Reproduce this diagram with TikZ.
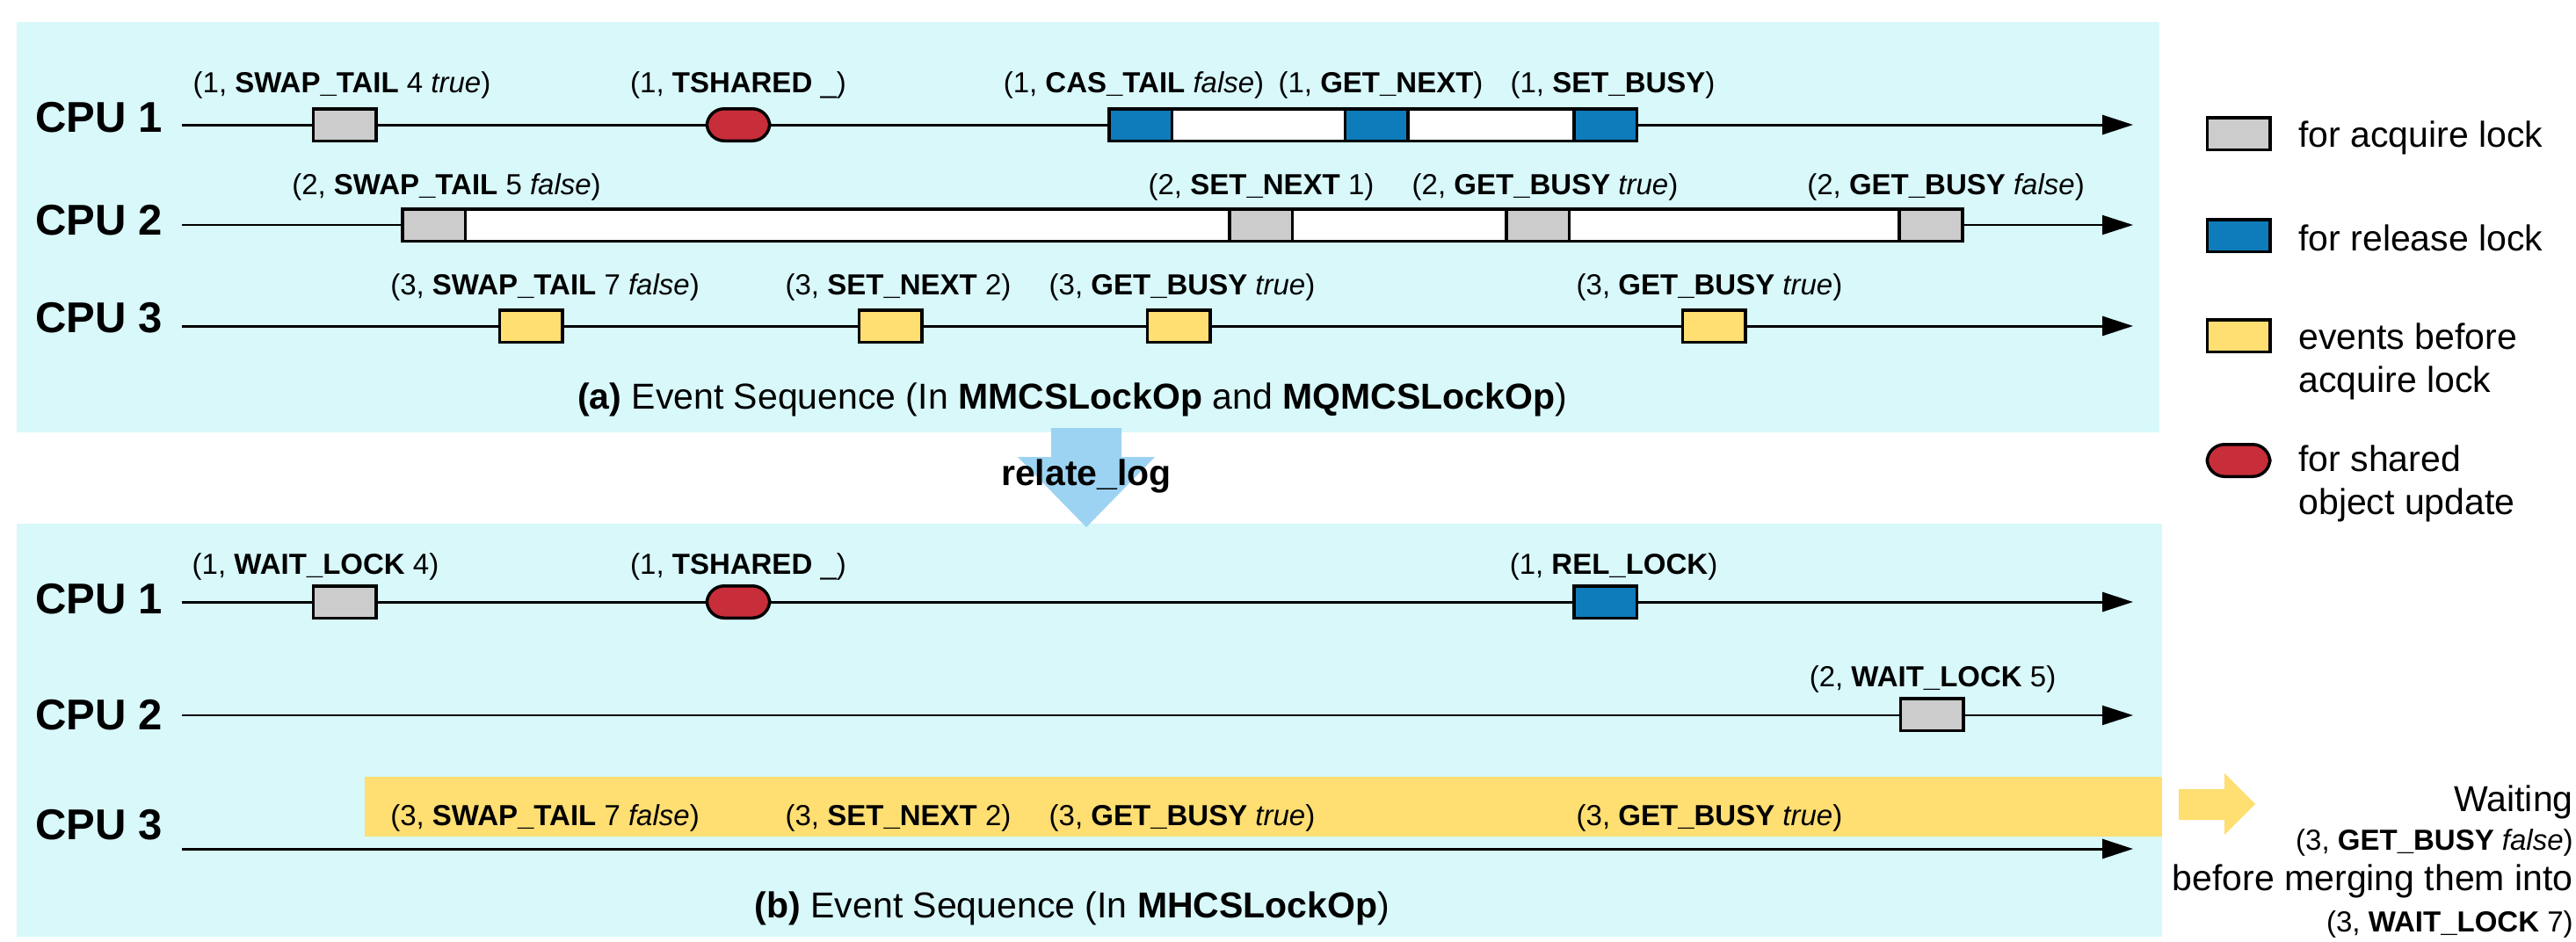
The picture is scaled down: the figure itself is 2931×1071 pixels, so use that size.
\documentclass[tikz,border=0pt]{standalone}
\usepackage{fontspec}
\setmainfont{Liberation Sans}
\usetikzlibrary{arrows.meta}
\definecolor{panelc}{RGB}{216,248,250}
\definecolor{acqgray}{RGB}{204,204,204}
\definecolor{relblue}{RGB}{14,123,186}
\definecolor{preyellow}{RGB}{255,222,114}
\definecolor{shrred}{RGB}{200,45,58}
\definecolor{arrblue}{RGB}{157,211,242}
\begin{document}
\begin{tikzpicture}[x=0.5pt,y=-0.5pt,
  cpulbl/.style={anchor=base west, inner sep=0pt, font=\fontsize{24.5}{28}\selectfont\bfseries},
  evlbl/.style={anchor=base, inner sep=0pt, font=\fontsize{16.5}{20}\selectfont},
  captxt/.style={anchor=base, inner sep=0pt, font=\fontsize{20.5}{24}\selectfont},
  legtxt/.style={anchor=base west, inner sep=0pt, font=\fontsize{20.5}{24}\selectfont},
  evbox/.style={draw=black, line width=1.75pt, minimum width=35.75pt, minimum height=18.25pt, inner sep=0pt},
  acq/.style={evbox, fill=acqgray},
  rel/.style={evbox, fill=relblue},
  pre/.style={evbox, fill=preyellow},
  shr/.style={evbox, fill=shrred, rounded corners=9.9pt},
  bar/.style={draw=black, line width=1.75pt, fill=white, minimum height=18.25pt, inner sep=0pt},
  tline/.style={line width=1.5pt, -{Triangle[length=17.5pt,width=11pt]}},
  tlinethin/.style={line width=1pt, -{Triangle[length=17.5pt,width=11pt]}}
]
\useasboundingbox (0,0) rectangle (2931,1071);
% panels
\fill[panelc] (19,25) rectangle (2457,492);
\fill[panelc] (19,596) rectangle (2460,1066);
% relate_log arrow
\fill[arrblue] (1196,487) -- (1276,487) -- (1276,520) -- (1314,520) -- (1236,600) -- (1158,520) -- (1196,520) -- cycle;
\node[anchor=base, inner sep=0pt, font=\fontsize{20.5}{24}\selectfont\bfseries] (rlog) at (1236,552) {relate\_log};

% ===== top panel =====
\node[cpulbl] (a1) at (40,150) {CPU 1};
\node[cpulbl] (a2) at (40,267) {CPU 2};
\node[cpulbl] (a3) at (40,378) {CPU 3};
\coordinate (a1s) at (207,142); \coordinate (a1e) at (2427,142);
\coordinate (a2s) at (207,256); \coordinate (a2e) at (2427,256);
\coordinate (a3s) at (207,371); \coordinate (a3e) at (2427,371);
\draw[tline] (a1s) -- (a1e);
\draw[tlinethin] (a2s) -- (a2e);
\draw[tline] (a3s) -- (a3e);
% CPU1 events
\node[acq] (a1b1) at (392,142) {};
\node[shr] (a1b2) at (840,142) {};
\node[bar, minimum width=300.25pt] (a1bar) at (1562,142) {};
\node[rel] (a1b3) at (1297.5,142) {};
\node[rel] (a1b4) at (1566,142) {};
\node[rel] (a1b5) at (1826.5,142) {};
\node[evlbl] (a1l1) at (389,105) {(1, \textbf{SWAP\_TAIL} 4 \textit{true})};
\node[evlbl] (a1l2) at (840,105) {(1, \textbf{TSHARED} \_)};
\node[evlbl] (a1l3) at (1290,105) {(1, \textbf{CAS\_TAIL} \textit{false})};
\node[evlbl] (a1l4) at (1571,105) {(1, \textbf{GET\_NEXT})};
\node[evlbl] (a1l5) at (1835,105) {(1, \textbf{SET\_BUSY})};
% CPU2 events
\node[bar, minimum width=887.75pt] (a2bar) at (1345.5,256) {};
\node[acq] (a2b1) at (493.5,256) {};
\node[acq] (a2b2) at (1434.5,256) {};
\node[acq] (a2b3) at (1749.5,256) {};
\node[acq] (a2b4) at (2196.5,256) {};
\node[evlbl] (a2l1) at (508,221) {(2, \textbf{SWAP\_TAIL} 5 \textit{false})};
\node[evlbl] (a2l2) at (1435,221) {(2, \textbf{SET\_NEXT} 1)};
\node[evlbl] (a2l3) at (1758,221) {(2, \textbf{GET\_BUSY} \textit{true})};
\node[evlbl] (a2l4) at (2214,221) {(2, \textbf{GET\_BUSY} \textit{false})};
% CPU3 events
\node[pre] (a3b1) at (604,371) {};
\node[pre] (a3b2) at (1013,371) {};
\node[pre] (a3b3) at (1341,371) {};
\node[pre] (a3b4) at (1950,371) {};
\node[evlbl] (a3l1) at (620,335) {(3, \textbf{SWAP\_TAIL} 7 \textit{false})};
\node[evlbl] (a3l2) at (1022,335) {(3, \textbf{SET\_NEXT} 2)};
\node[evlbl] (a3l3) at (1345,335) {(3, \textbf{GET\_BUSY} \textit{true})};
\node[evlbl] (a3l4) at (1945,335) {(3, \textbf{GET\_BUSY} \textit{true})};
\node[captxt] (capa) at (1220,465) {\textbf{(a)} Event Sequence (In \textbf{MMCSLockOp} and \textbf{MQMCSLockOp})};

% ===== legend =====
\node[acq] (g1) at (2547,152) {};
\node[rel] (g2) at (2547,268) {};
\node[pre] (g3) at (2547,382) {};
\node[shr] (g4) at (2547,524) {};
\node[legtxt] (g1t) at (2615,167) {for acquire lock};
\node[legtxt] (g2t) at (2615,285) {for release lock};
\node[legtxt] (g3t) at (2615,397) {events before};
\node[legtxt] (g3u) at (2615,446) {acquire lock};
\node[legtxt] (g4t) at (2615,536) {for shared};
\node[legtxt] (g4u) at (2615,585) {object update};

% ===== bottom panel =====
\fill[preyellow] (415,884) rectangle (2460,952);
\node[cpulbl] (b1) at (40,698) {CPU 1};
\node[cpulbl] (b2) at (40,830) {CPU 2};
\node[cpulbl] (b3) at (40,955) {CPU 3};
\coordinate (b1s) at (207,685); \coordinate (b1e) at (2427,685);
\coordinate (b2s) at (207,814); \coordinate (b2e) at (2427,814);
\coordinate (b3s) at (207,966); \coordinate (b3e) at (2427,966);
\draw[tline] (b1s) -- (b1e);
\draw[tlinethin] (b2s) -- (b2e);
\draw[tline] (b3s) -- (b3e);
\node[acq] (b1b1) at (392,685) {};
\node[shr] (b1b2) at (840,685) {};
\node[rel] (b1b3) at (1826.5,685) {};
\node[acq] (b2b1) at (2198,813) {};
\node[evlbl] (b1l1) at (359,653) {(1, \textbf{WAIT\_LOCK} 4)};
\node[evlbl] (b1l2) at (840,653) {(1, \textbf{TSHARED} \_)};
\node[evlbl] (b1l3) at (1836,653) {(1, \textbf{REL\_LOCK})};
\node[evlbl] (b2l1) at (2199,781) {(2, \textbf{WAIT\_LOCK} 5)};
\node[evlbl] (b3l1) at (620,939) {(3, \textbf{SWAP\_TAIL} 7 \textit{false})};
\node[evlbl] (b3l2) at (1022,939) {(3, \textbf{SET\_NEXT} 2)};
\node[evlbl] (b3l3) at (1345,939) {(3, \textbf{GET\_BUSY} \textit{true})};
\node[evlbl] (b3l4) at (1945,939) {(3, \textbf{GET\_BUSY} \textit{true})};
\node[captxt] (capb) at (1220,1044) {\textbf{(b)} Event Sequence (In \textbf{MHCSLockOp})};

% ===== waiting note =====
\fill[preyellow] (2479,898) -- (2531,898) -- (2531,880) -- (2566,915) -- (2531,950) -- (2531,933) -- (2479,933) -- cycle;
\node[anchor=base east, inner sep=0pt, font=\fontsize{20.5}{24}\selectfont] (w1) at (2928,923) {Waiting};
\node[anchor=base east, inner sep=0pt, font=\fontsize{16.5}{20}\selectfont] (w2) at (2928,967) {(3, \textbf{GET\_BUSY} \textit{false})};
\node[anchor=base east, inner sep=0pt, font=\fontsize{20.5}{24}\selectfont] (w3) at (2928,1013) {before merging them into};
\node[anchor=base east, inner sep=0pt, font=\fontsize{16.5}{20}\selectfont] (w4) at (2928,1060) {(3, \textbf{WAIT\_LOCK} 7)};
\end{tikzpicture}
\end{document}
